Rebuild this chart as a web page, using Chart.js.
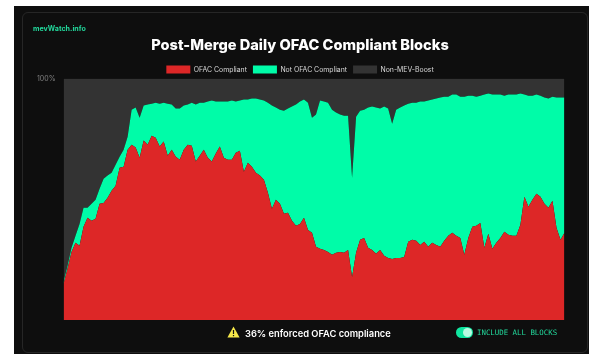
<!DOCTYPE html>
<html><head><meta charset="utf-8">
<script src="https://cdn.jsdelivr.net/npm/chart.js@4"></script>
<style>
html,body{margin:0;padding:0;background:#fff;width:600px;height:362px;overflow:hidden}
#frame{position:absolute;left:14px;top:6px;width:575px;height:348px;background:#0e0e0e}
#inner{position:absolute;left:22px;top:12px;width:566px;height:341px;border:1px solid #262626;border-radius:6px;box-sizing:border-box}
canvas{position:absolute;left:0;top:0;filter:blur(.35px)}
.t{position:absolute;white-space:nowrap;filter:blur(.3px)}
#brand{left:33px;top:23px;font:700 7.1px/12px "Inter",sans-serif;color:#22d79b}
#note{left:245px;top:327px;font:600 9.3px/13px "Inter",sans-serif;color:#fff}
#tri{position:absolute;left:227px;top:326px}
#toggle{position:absolute;left:456px;top:327px;width:17px;height:11px;border-radius:6px;background:#10e6a0}
#toggle i{position:absolute;right:1px;top:1px;width:9px;height:9px;border-radius:50%;background:#b9fbe2}
#inc{left:477px;top:326px;font:400 7.4px/13px "DejaVu Sans Mono",monospace;color:#22d79b}
</style></head><body>
<div id="frame"></div><div id="inner"></div>
<canvas id="c" width="600" height="362"></canvas>
<div class="t" id="brand">mevWatch.info</div>
<svg id="tri" width="13" height="12" viewBox="0 0 13 12"><path d="M6.5 .5 12.6 11.5H.4Z" fill="#f6e84a"/><rect x="5.9" y="4" width="1.2" height="4" fill="#111"/><rect x="5.9" y="9" width="1.2" height="1.2" fill="#111"/></svg>
<div class="t" id="note">36% enforced OFAC compliance</div>
<div id="toggle"><i></i></div>
<div class="t" id="inc">INCLUDE ALL BLOCKS</div>
<script>
const titleText = "Post-Merge Daily OFAC Compliant Blocks";
const seriesNames = ["OFAC Compliant", "Not OFAC Compliant", "Non-MEV-Boost"];
const ofacCompliant = [14.9,21.2,28.2,32.0,30.7,38.6,42.3,41.1,41.9,48.1,48.5,50.6,53.5,55.6,63.1,63.5,70.5,72.6,71.4,67.2,74.3,72.6,76.3,75.5,71.8,73.9,68.0,70.5,67.6,66.4,70.5,72.6,72.2,65.6,68.0,70.5,67.2,65.6,68.9,71.8,67.2,66.4,66.4,69.3,70.1,61.4,65.1,63.5,61.0,59.8,58.1,52.7,46.1,49.8,48.1,44.0,44.4,41.1,39.0,39.8,42.3,37.3,36.1,30.3,29.5,29.0,28.2,27.0,27.8,28.2,27.8,29.0,17.8,27.8,33.2,34.0,29.9,29.0,27.4,29.0,26.6,25.7,25.3,25.7,25.7,26.1,32.4,33.2,32.8,31.1,32.4,30.3,32.0,31.1,30.3,32.8,34.9,36.1,34.9,34.0,27.0,34.0,38.6,39.0,40.2,29.9,35.7,29.5,32.0,34.0,36.5,35.3,34.9,34.9,39.4,51.0,46.9,49.8,52.3,51.0,48.1,46.5,49.4,38.2,33.2,36.1];
const notOfacCompliant = [0.9,1.2,1.7,2.9,9.1,7.9,4.2,7.0,7.9,6.3,10.0,9.2,7.5,8.7,4.5,7.0,5.4,14.5,16.6,16.6,14.5,16.6,13.3,14.5,17.8,16.1,21.6,18.7,20.0,21.2,18.3,16.6,17.8,23.6,22.0,19.5,23.3,25.3,21.6,18.7,23.3,24.1,24.5,21.2,20.8,29.9,26.2,28.2,30.7,31.5,32.8,37.3,42.7,38.2,39.0,42.7,43.2,47.3,50.2,50.7,49.0,52.7,47.7,54.8,61.4,61.5,61.8,60.1,58.1,56.9,56.8,55.6,41.1,56.4,53.5,53.1,58.1,59.4,60.6,58.6,61.8,61.9,56.0,61.4,62.3,62.7,57.2,56.8,57.2,59.4,58.1,60.6,59.3,60.6,61.8,59.7,57.6,57.3,58.5,58.5,65.5,58.9,54.3,53.5,52.7,63.5,58.1,63.9,61.4,59.4,56.4,58.1,58.5,58.5,54.4,42.4,46.0,43.1,41.1,41.9,44.0,45.2,43.1,53.9,58.9,56.0];
const nonMevBoost = [84.2,77.6,70.1,65.1,60.2,53.5,53.5,51.9,50.2,45.6,41.5,40.2,39.0,35.7,32.4,29.5,24.1,12.9,12.0,16.2,11.2,10.8,10.4,10.0,10.4,10.0,10.4,10.8,12.4,12.4,11.2,10.8,10.0,10.8,10.0,10.0,9.5,9.1,9.5,9.5,9.5,9.5,9.1,9.5,9.1,8.7,8.7,8.3,8.3,8.7,9.1,10.0,11.2,12.0,12.9,13.3,12.4,11.6,10.8,9.5,8.7,10.0,16.2,14.9,9.1,9.5,10.0,12.9,14.1,14.9,15.4,15.4,41.1,15.8,13.3,12.9,12.0,11.6,12.0,12.4,11.6,12.4,18.7,12.9,12.0,11.2,10.4,10.0,10.0,9.5,9.5,9.1,8.7,8.3,7.9,7.5,7.5,6.6,6.6,7.5,7.5,7.1,7.1,7.5,7.1,6.6,6.2,6.6,6.6,6.6,7.1,6.6,6.6,6.6,6.2,6.6,7.1,7.1,6.6,7.1,7.9,8.3,7.5,7.9,7.9,7.9];
const dayLabels = ofacCompliant.map((_, i) => "d" + (i + 1));
const yTicksShown = [100];
const colors = ["#dd2727", "#00fca8", "#333333"];

const legendTrim = {
  id: "legendTrim",
  beforeInit(chart) {
    const fit = chart.legend.fit;
    chart.legend.fit = function () { fit.call(this); this.height -= 5; };
  }
};

new Chart(document.getElementById("c"), {
  type: "line",
  plugins: [legendTrim],
  data: {
    labels: dayLabels,
    datasets: [ofacCompliant, notOfacCompliant, nonMevBoost].map((d, i) => ({
      label: seriesNames[i], data: d,
      backgroundColor: colors[i], borderColor: colors[i],
      borderWidth: 0, pointRadius: 0, tension: 0,
      fill: i === 0 ? "origin" : "-1"
    }))
  },
  options: {
    responsive: false, animation: false, devicePixelRatio: 1,
    layout: { padding: { left: 0, right: 0, bottom: 42, top: 37 } },
    plugins: {
      tooltip: { enabled: false },
      title: { display: true, text: titleText, color: "#fff", align: "center",
        font: { family: "Inter", size: 14.6, weight: "800" }, padding: { top: 0, bottom: 5 } },
      legend: { display: true, position: "top", align: "center",
        labels: { boxWidth: 24, boxHeight: 8, color: "#d8d8d8", padding: 6,
          font: { family: "Inter", size: 6.9 } } }
    },
    scales: {
      x: { display: false, offset: false, grid: { display: false } },
      y: {
        stacked: true, min: 0, max: 100,
        afterFit: s => { s.width = 63.5; },
        border: { display: false }, grid: { display: false },
        afterBuildTicks: s => { s.ticks = yTicksShown.map(v => ({ value: v })); },
        ticks: { color: "#808080", font: { family: "Inter", size: 7 }, padding: 0,
          callback: v => v + "%" }
      },
      yRight: {
        position: "right", min: 0, max: 100,
        afterFit: s => { s.width = 35.5; },
        border: { display: false }, grid: { display: false },
        afterBuildTicks: s => { s.ticks = []; },
        ticks: { display: false }
      }
    }
  }
});
</script>
</body></html>
